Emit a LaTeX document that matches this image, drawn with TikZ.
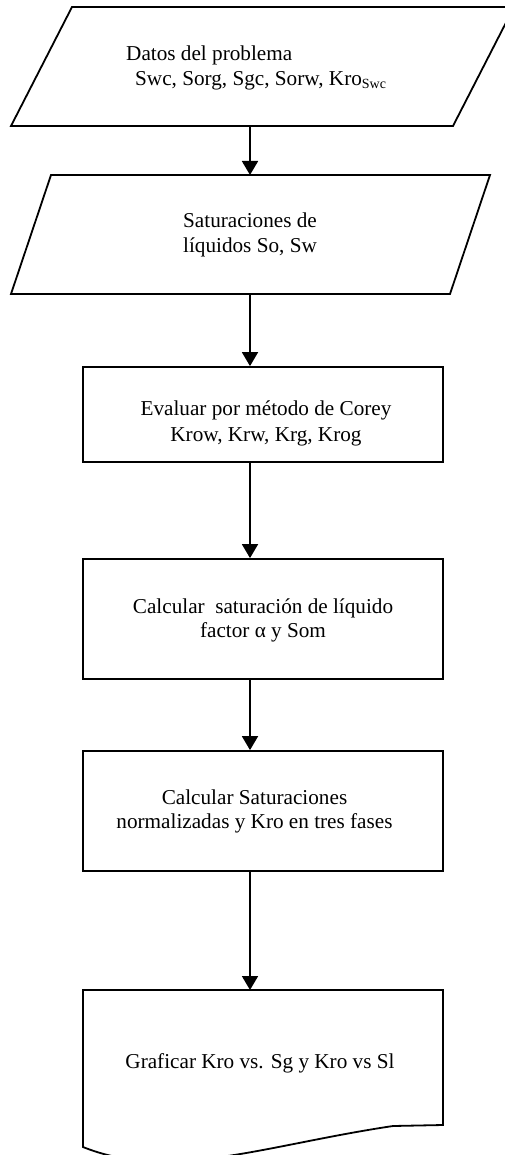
\documentclass[tikz,border=0pt]{standalone}
\usepackage{fontspec}
\setmainfont{Liberation Serif}
\usetikzlibrary{arrows.meta}
\begin{document}
\begin{tikzpicture}[x=1pt,y=-1pt,
  outline/.style={draw=black,line width=1.8pt,line join=miter},
  procbox/.style={outline,rectangle,inner sep=0pt,minimum width=360pt},
  flow/.style={line width=1.8pt,-{Triangle[width=16pt,length=14pt]}},
  txt/.style={font=\fontsize{21.2}{26.6}\selectfont,inner sep=0pt,align=center},
  txtl/.style={font=\fontsize{21.2}{26.6}\selectfont,inner sep=0pt,anchor=base west}]
\clip (0,0) rectangle (505,1155);
\fill[white] (0,0) rectangle (505,1155);

% vertical axis of the connectors
\coordinate (ax) at (250,0);

% input: problem data
\draw[outline] (72,7) -- (514,7) -- (453,126) -- (11,126) -- cycle;
\coordinate (in1) at (250,126);
\node[txtl] (t1a) at (126,61) {Datos del problema};
\node[txtl] (t1b) at (135,86) {Swc, Sorg, Sgc, Sorw, Kro\raisebox{-0.25ex}{\fontsize{14}{14}\selectfont Swc}};

% input: liquid saturations
\draw[outline] (51,175) -- (490,175) -- (450,294) -- (11,294) -- cycle;
\coordinate (in2t) at (250,175);
\coordinate (in2b) at (250,294);
\node[txt,anchor=base] (t2a) at (250,228) {Saturaciones de};
\node[txt,anchor=base] (t2b) at (250,253) {líquidos So, Sw};

% process steps
\node[procbox,minimum height=95pt] (corey) at (263,414.5) {};
\node[txt,anchor=base] at (266,415) {Evaluar por método de Corey};
\node[txt,anchor=base] at (266,441) {Krow, Krw, Krg, Krog};

\node[procbox,minimum height=120pt] (liq) at (263,619) {};
\node[txt,anchor=base] at (263,613) {Calcular\ \ saturación de líquido};
\node[txt,anchor=base] at (263,637) {factor α y Som};

\node[procbox,minimum height=120pt] (norm) at (263,811) {};
\node[txt,anchor=base] at (254.5,804) {Calcular Saturaciones};
\node[txt,anchor=base] at (254.5,828) {normalizadas y Kro en tres fases};

% output document
\draw[outline] (83,990) -- (443,990) -- (443,1125) -- (393,1126)
  .. controls (265,1145) and (170,1182) .. (83,1147) -- cycle;
\coordinate (doc) at (250,990);
\node[txt,anchor=base] at (260,1068) {Graficar Kro vs. Sg y Kro vs Sl};

% connectors
\draw[flow] (in1) -- (in2t);
\draw[flow] (in2b) -- (corey.north -| ax);
\draw[flow] (corey.south -| ax) -- (liq.north -| ax);
\draw[flow] (liq.south -| ax) -- (norm.north -| ax);
\draw[flow] (norm.south -| ax) -- (doc);
\end{tikzpicture}
\end{document}
